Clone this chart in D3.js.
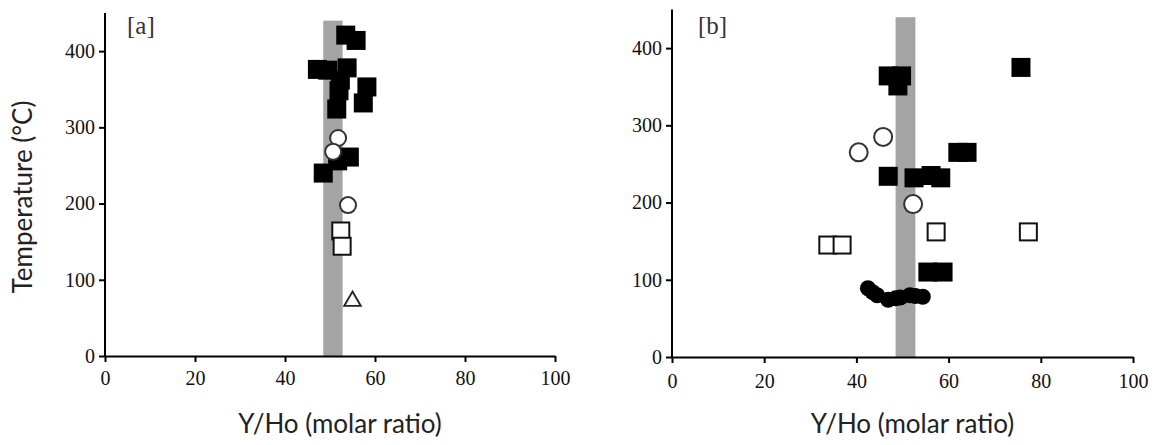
<!DOCTYPE html>
<html><head><meta charset="utf-8">
<script src="https://cdn.jsdelivr.net/npm/d3@7"></script>
<style>
body{margin:0;background:#fff;}
svg{display:block;}
</style></head>
<body>
<svg id="chart" width="1158" height="445"></svg>
<script>
// ---------------- data ----------------
const xTicks = [0, 20, 40, 60, 80, 100];
const yTicks = [0, 100, 200, 300, 400];
const panelLabels = ["[a]", "[b]"];
const xTitle = "Y/Ho (molar ratio)";
const yTitle = "Temperature (°C)";
const band = [48.5, 52.8];       // grey reference band (Y/Ho)
const bandTop = 440;             // °C

// panel [a]
const aFilledSquares = [[53.5,421],[55.8,414],[47.2,376],[49.5,375],[53.8,378],[52.3,362],[52,348],[51.5,324],[58.2,353],[57.4,332],[48.5,240],[51.7,256],[54.3,261]];
const aOpenCircles   = [[51.8,286],[50.7,268],[54,198]];
const aOpenSquares   = [[52.4,164],[52.7,144]];
const aTriangles     = [[55,72]];

// panel [b]
const bFilledSquares = [[46.9,364],[49.8,364],[49,351],[75.7,375],[62,265],[64,265],[46.9,234],[52.5,232],[56.2,235],[58.3,232],[55.5,110],[58.8,110]];
const bOpenCircles   = [[45.8,285],[40.5,265],[52.3,198]];
const bOpenSquares   = [[33.8,145],[36.9,145],[57.3,162],[77.3,162]];
const bFilledCircles = [[42.5,89],[43.5,84],[44.5,80],[46.9,74],[48.5,76],[49.5,77],[51.6,80],[52.8,79],[54.4,78]];

// ---------------- drawing ----------------
const svg = d3.select("#chart");
const serif = "'Liberation Serif', serif";
const sans = "Lato, 'Open Sans', sans-serif";

const panels = [
  {x0:105, x1:555, y0:356, y1:13, label:panelLabels[0], lx:127, ly:34, yTitle:true, cr:8, xpad:9,
   filledSq:aFilledSquares, openCirc:aOpenCircles, openSq:aOpenSquares, tri:aTriangles, filledCirc:[]},
  {x0:672, x1:1133, y0:357, y1:9.5, label:panelLabels[1], lx:698, ly:34, yTitle:false, cr:9, xpad:11,
   filledSq:bFilledSquares, openCirc:bOpenCircles, openSq:bOpenSquares, tri:[], filledCirc:bFilledCircles}
];

panels.forEach(p => {
  const x = d3.scaleLinear().domain([0,100]).range([p.x0, p.x1]);
  const y = d3.scaleLinear().domain([0,450]).range([p.y0, p.y1]);
  const g = svg.append("g");

  // band
  g.append("rect")
    .attr("x", x(band[0])).attr("width", x(band[1]) - x(band[0]))
    .attr("y", y(bandTop)).attr("height", y(0) - y(bandTop))
    .attr("fill", "#a4a4a4");

  // axes
  const xa = g.append("g").attr("transform", `translate(0,${y(0)})`)
    .call(d3.axisBottom(x).tickValues(xTicks).tickSize(6).tickSizeOuter(0).tickPadding(p.xpad));
  const ya = g.append("g").attr("transform", `translate(${x(0)},0)`)
    .call(d3.axisLeft(y).tickValues(yTicks).tickSize(6).tickSizeOuter(0).tickPadding(4));
  [xa, ya].forEach(a => {
    a.select(".domain").attr("stroke", "#000").attr("stroke-width", 2);
    a.selectAll(".tick line").attr("stroke", "#000").attr("stroke-width", 2);
    a.selectAll(".tick text").attr("font-family", serif).attr("font-size", 20).attr("fill", "#111");
  });
  ya.select(".domain").attr("d", `M0,${y(0)+1}V${p.y1}`);

  // markers: filled squares
  const sq = 19;
  g.selectAll(".fsq").data(p.filledSq).join("rect")
    .attr("x", d => x(d[0]) - sq/2).attr("y", d => y(d[1]) - sq/2)
    .attr("width", sq).attr("height", sq).attr("fill", "#000");
  // open squares
  g.selectAll(".osq").data(p.openSq).join("rect")
    .attr("x", d => x(d[0]) - (sq-2)/2).attr("y", d => y(d[1]) - (sq-2)/2)
    .attr("width", sq-2).attr("height", sq-2)
    .attr("fill", "#fff").attr("stroke", "#111").attr("stroke-width", 2);
  // open circles
  g.selectAll(".oc").data(p.openCirc).join("circle")
    .attr("cx", d => x(d[0])).attr("cy", d => y(d[1])).attr("r", p.cr)
    .attr("fill", "#fff").attr("stroke", "#333").attr("stroke-width", 2);
  // filled circles
  g.selectAll(".fc").data(p.filledCirc).join("circle")
    .attr("cx", d => x(d[0])).attr("cy", d => y(d[1])).attr("r", 8)
    .attr("fill", "#000");
  // triangles
  g.selectAll(".tri").data(p.tri).join("path")
    .attr("transform", d => `translate(${x(d[0])},${y(d[1])})`)
    .attr("d", d3.symbol(d3.symbolTriangle, 120)())
    .attr("fill", "#fff").attr("stroke", "#222").attr("stroke-width", 1.8);

  // panel label
  g.append("text").attr("x", p.lx).attr("y", p.ly).text(p.label)
    .attr("font-family", serif).attr("font-size", 25).attr("fill", "#333");

  // x title
  g.append("text").attr("x", (p.x0 + p.x1)/2 + 10).attr("y", 433)
    .attr("text-anchor", "middle").text(xTitle)
    .attr("font-family", sans).attr("font-size", 26).attr("fill", "#222");

  if (p.yTitle) {
    g.append("text").attr("transform", `translate(32,197) rotate(-90)`)
      .attr("text-anchor", "middle").text(yTitle)
      .attr("font-family", sans).attr("font-size", 26).attr("fill", "#222");
  }
});
</script>
</body></html>
